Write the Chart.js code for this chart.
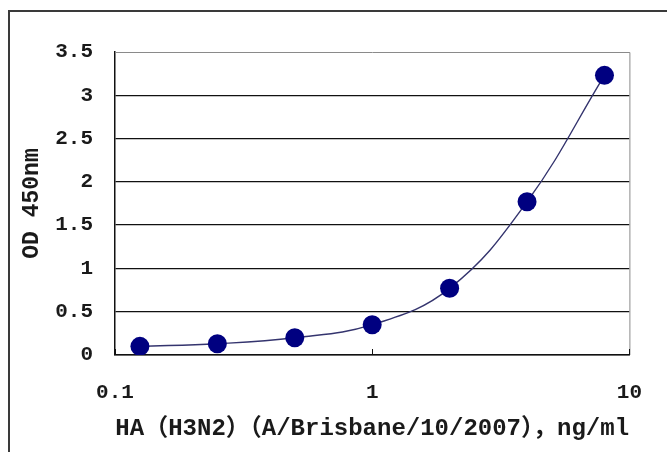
<!DOCTYPE html>
<html>
<head>
<meta charset="utf-8">
<script src="https://cdn.jsdelivr.net/npm/chart.js@4/dist/chart.umd.min.js"></script>
<style>
  html, body { margin: 0; padding: 0; background: #ffffff; }
  #wrap { width: 667px; height: 455px; position: relative; }
</style>
</head>
<body>
<div id="wrap"><canvas id="chart" width="667" height="455"></canvas></div>
<script>
// HA concentration (ng/ml) and measured OD at 450 nm
const concentrations = [0.125, 0.25, 0.5, 1, 2, 4, 8];
const odValues = [0.10, 0.13, 0.20, 0.35, 0.77, 1.77, 3.23];

// Axis labels
const xMajorTicks = [0.1, 1, 10];
const xTickLabels = ['0.1', '1', '10'];
const yTicks = [0, 0.5, 1, 1.5, 2, 2.5, 3, 3.5];
const xTitle = 'HA（H3N2）（A/Brisbane/10/2007），ng/ml';
const yTitle = 'OD 450nm';

const FONT = "'Liberation Mono', 'Noto Sans CJK SC', monospace";
const TEXT = '#1a1a1a';

function majorIndex(v) {
  for (let i = 0; i < xMajorTicks.length; i++) {
    if (Math.abs(Math.log10(v) - Math.log10(xMajorTicks[i])) < 1e-6) return i;
  }
  return -1;
}

// Outer frame, plot border (top/right) and inside tick marks on the x axis
const framePlugin = {
  id: 'frame',
  beforeDraw(chart) {
    const ctx = chart.ctx;
    ctx.save();
    ctx.fillStyle = '#ffffff';
    ctx.fillRect(0, 0, chart.width, chart.height);
    ctx.strokeStyle = '#3a3a3a';
    ctx.lineWidth = 2;
    ctx.beginPath();
    ctx.moveTo(9, 452);
    ctx.lineTo(9, 11);
    ctx.lineTo(chart.width, 11);
    ctx.stroke();
    ctx.restore();
  },
  afterDatasetsDraw(chart) {
    const ctx = chart.ctx;
    const a = chart.chartArea;
    const xs = chart.scales.x;
    ctx.save();
    ctx.strokeStyle = '#8a8a8a';
    ctx.lineWidth = 1;
    ctx.beginPath();
    ctx.moveTo(a.left, a.top + 0.5);
    ctx.lineTo(a.right + 0.5, a.top + 0.5);
    ctx.lineTo(a.right + 0.5, a.bottom);
    ctx.stroke();
    ctx.strokeStyle = '#111111';
    ctx.beginPath();
    xMajorTicks.forEach(v => {
      const px = Math.round(xs.getPixelForValue(v)) + 0.5;
      ctx.moveTo(px, a.bottom);
      ctx.lineTo(px, a.bottom - 6);
    });
    ctx.stroke();
    ctx.restore();
  }
};

new Chart(document.getElementById('chart'), {
  type: 'line',
  data: {
    datasets: [{
      data: concentrations.map((c, i) => ({ x: c, y: odValues[i] })),
      borderColor: '#34346e',
      borderWidth: 1.4,
      tension: 0.4,
      pointRadius: 9.5,
      pointHoverRadius: 9.5,
      pointBackgroundColor: '#000080',
      pointBorderColor: '#000080',
      pointBorderWidth: 0,
      fill: false
    }]
  },
  options: {
    responsive: false,
    animation: false,
    events: [],
    layout: { padding: { left: 0, right: 33, top: 52, bottom: 0 } },
    plugins: {
      legend: { display: false },
      tooltip: { enabled: false }
    },
    scales: {
      x: {
        type: 'logarithmic',
        min: 0.1,
        max: 10,
        afterFit(s) { s.height = 100; },
        border: { display: true, color: '#111111', width: 1.5 },
        grid: { drawOnChartArea: false, drawTicks: false },
        ticks: {
          autoSkip: false,
          maxRotation: 0,
          padding: 25,
          color: TEXT,
          font: { family: FONT, size: 21, weight: 'bold' },
          callback(v) {
            const i = majorIndex(v);
            return i >= 0 ? xTickLabels[i] : '';
          }
        },
        title: {
          display: true,
          text: xTitle,
          color: TEXT,
          font: { family: FONT, size: 24, weight: 'bold' },
          padding: { top: 0, bottom: 12 }
        }
      },
      y: {
        min: 0,
        max: 3.5,
        afterFit(s) { s.width = 115; },
        afterBuildTicks(s) { s.ticks = yTicks.map(v => ({ value: v })); },
        border: { display: true, color: '#111111', width: 1.5 },
        grid: {
          drawTicks: false,
          lineWidth: 1.3,
          color: ctx => (ctx.tick && ctx.tick.value >= 3.5) ? 'rgba(0,0,0,0)' : '#111111'
        },
        ticks: {
          padding: 22,
          color: TEXT,
          font: { family: FONT, size: 21, weight: 'bold' },
          callback: v => String(v)
        },
        title: {
          display: true,
          text: yTitle,
          color: TEXT,
          font: { family: FONT, size: 23, weight: 'bold' },
          padding: { top: 18, bottom: 0 }
        }
      }
    }
  },
  plugins: [framePlugin]
});
</script>
</body>
</html>
